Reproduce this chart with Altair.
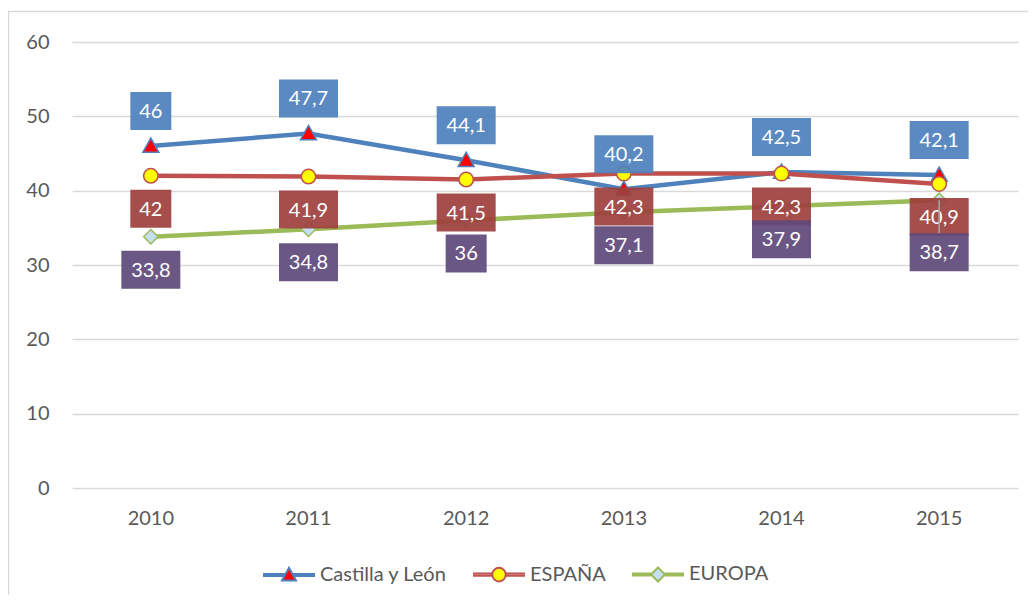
import altair as alt
import pandas as pd

# ---------------- data ----------------
years = ["2010", "2011", "2012", "2013", "2014", "2015"]
series_names = ["Castilla y León", "ESPAÑA", "EUROPA"]
castilla = [46, 47.7, 44.1, 40.2, 42.5, 42.1]
espana = [42, 41.9, 41.5, 42.3, 42.3, 40.9]
europa = [33.8, 34.8, 36, 37.1, 37.9, 38.7]
y_ticks = [0, 10, 20, 30, 40, 50, 60]

rows = []
for name, vals in zip(series_names, [castilla, espana, europa]):
    for yr, v in zip(years, vals):
        rows.append({"year": yr, "series": name, "value": v,
                     "label": f"{v:g}".replace(".", ",")})
df = pd.DataFrame(rows)

# ---------------- styles ----------------
FONT = "Lato"
TXT = "#595959"
line_col = {"Castilla y León": "#4F81BD", "ESPAÑA": "#C0504D", "EUROPA": "#9BBB59"}
mk_fill = {"Castilla y León": "#FF0000", "ESPAÑA": "#FFFF00", "EUROPA": "#C6DFF5"}
box_col = {"Castilla y León": "#4F81BD", "ESPAÑA": "#9E413E", "EUROPA": "#604A7B"}
box_off = {"Castilla y León": -35, "ESPAÑA": 33, "EUROPA": 33}


def circle_path(r):
    k = 0.5523 * r
    return (f"M{r},0C{r},{k} {k},{r} 0,{r}C{-k},{r} {-r},{k} {-r},0"
            f"C{-r},{-k} {-k},{-r} 0,{-r}C{k},{-r} {r},{-k} {r},0Z")


# chart markers (size 400 -> unit = 10px)
mk_shape = {
    "Castilla y León": "M0,-0.8L0.8,0.62L-0.8,0.62Z",
    "ESPAÑA": circle_path(0.72),
    "EUROPA": "M0,-0.72L0.72,0L0,0.72L-0.72,0Z",
}
MK_SIZE = 400


def leg_path(marker, gap):
    d = 0.04
    return (f"M-1,{-d}H{-gap}M-1,{d}H{-gap}M{gap},{-d}H1M{gap},{d}H1" + marker)


# legend symbols (size 2704 -> unit = 26px)
leg_shapes = [
    leg_path("M0,-0.28L0.27,0.21L-0.27,0.21Z", 0.15),
    leg_path(circle_path(0.26), 0.26),
    leg_path("M0,-0.27L0.27,0L0,0.27L-0.27,0Z", 0.27),
]
LEG_SIZE = 2704

BOX_NARROW = "M-2.05,-1.9H2.05V1.9H-2.05Z"
BOX_WIDE = "M-2.95,-1.9H2.95V1.9H-2.95Z"

x_enc = alt.X("year:O", title=None,
              axis=alt.Axis(labelAngle=0, domain=False, ticks=False, grid=False,
                            labelFont=FONT, labelFontSize=20, labelColor=TXT,
                            labelPadding=20))
y_enc = alt.Y("value:Q", title=None,
              scale=alt.Scale(domain=[0, 60], nice=False, zero=True),
              axis=alt.Axis(values=y_ticks, domain=False, ticks=False, grid=True,
                            gridColor="#D9D9D9", gridWidth=1.3,
                            labelFont=FONT, labelFontSize=20, labelColor=TXT,
                            labelPadding=23))

base = alt.Chart(df)
layers = []

# frame
layers.append(
    alt.Chart(alt.Data(values=[{"f": 1}])).mark_rect(
        fillOpacity=0, stroke="#D9D9D9", strokeWidth=1.5
    ).encode(x=alt.value(-63.5), x2=alt.value(1100), y=alt.value(-30.5), y2=alt.value(700))
)

# lines + markers per series
for name in series_names:
    sel = base.transform_filter(alt.datum.series == name)
    layers.append(sel.mark_line(color=line_col[name], strokeWidth=4.5).encode(x=x_enc, y=y_enc))
    layers.append(sel.mark_point(shape=mk_shape[name], size=MK_SIZE, filled=True,
                                 fill=mk_fill[name], stroke=line_col[name],
                                 strokeWidth=1.5, opacity=1).encode(x=x_enc, y=y_enc))

# legend-only layer (no marks drawn)
leg = alt.Legend(title=None, orient="none", legendX=190, legendY=505,
                 direction="horizontal", symbolSize=LEG_SIZE, symbolStrokeWidth=2,
                 labelFont=FONT, labelFontSize=20, labelColor=TXT, labelOffset=4,
                 columnPadding=22, padding=0, symbolOpacity=1)
layers.append(
    base.transform_filter("datum.value < 0").mark_point(
        filled=True, size=LEG_SIZE, strokeWidth=2, opacity=1
    ).encode(
        x=x_enc, y=y_enc,
        shape=alt.Shape("series:N", scale=alt.Scale(domain=series_names, range=leg_shapes), legend=leg),
        fill=alt.Fill("series:N", scale=alt.Scale(domain=series_names,
                                                 range=[mk_fill[n] for n in series_names]), legend=leg),
        stroke=alt.Stroke("series:N", scale=alt.Scale(domain=series_names,
                                                     range=[line_col[n] for n in series_names]), legend=leg),
    )
)


def label_layers(name, off, extra_filter=None):
    out = []
    sel = base.transform_filter(alt.datum.series == name)
    if extra_filter is not None:
        sel = sel.transform_filter(extra_filter)
    out.append(sel.transform_filter("length(datum.label) <= 2").mark_point(
        shape=BOX_NARROW, size=MK_SIZE, filled=True, fill=box_col[name],
        strokeWidth=0, opacity=0.93, yOffset=off).encode(x=x_enc, y=y_enc))
    out.append(sel.transform_filter("length(datum.label) > 2").mark_point(
        shape=BOX_WIDE, size=MK_SIZE, filled=True, fill=box_col[name],
        strokeWidth=0, opacity=0.93, yOffset=off).encode(x=x_enc, y=y_enc))
    out.append(sel.mark_text(font=FONT, fontSize=20, color="white", baseline="middle",
                             align="center", yOffset=off + 1).encode(
        x=x_enc, y=y_enc, text="label:N"))
    return out


layers += label_layers("Castilla y León", box_off["Castilla y León"])
layers += label_layers("ESPAÑA", box_off["ESPAÑA"])
layers += label_layers("EUROPA", box_off["EUROPA"], "datum.year != '2015'")

# leader line for the displaced 2015 EUROPA label
layers.append(
    base.transform_filter((alt.datum.series == "EUROPA") & (alt.datum.year == "2015"))
    .mark_rule(color="#A6A6A6", strokeWidth=1.5, y2Offset=33)
    .encode(x=x_enc, y=y_enc, y2="value:Q")
)
layers += label_layers("EUROPA", 52, "datum.year == '2015'")

chart = alt.layer(*layers, data=df).properties(
    width=946, height=446,
    padding={"left": 64, "top": 34, "right": 10, "bottom": 107},
    autosize=alt.AutoSizeParams(type="none"),
).configure_view(stroke=None)

chart.save("out.html", embed_options={"renderer": "svg", "actions": False})
